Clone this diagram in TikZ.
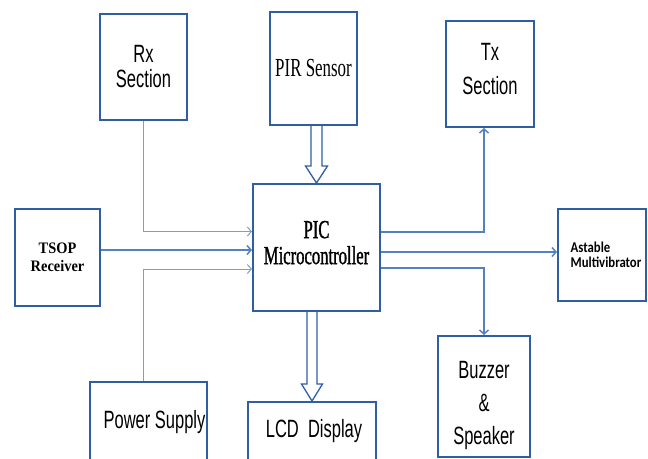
\documentclass[tikz,border=0pt]{standalone}
\usepackage{fontspec}
\newfontfamily\arnarrow[FakeStretch=0.66]{Liberation Sans}
\newfontfamily\tmnarrow[FakeStretch=0.65]{Liberation Serif}
\newfontfamily\tmheavy[FakeStretch=0.64,FakeBold=1.2]{Liberation Serif}
\newfontfamily\tmwide[FakeStretch=0.9]{Liberation Serif}
\newfontfamily\calnarrow[FakeStretch=0.85]{Carlito}
\usetikzlibrary{arrows.meta,positioning,calc}
\definecolor{boxblue}{RGB}{48,94,162}
\definecolor{linkblue}{RGB}{84,130,192}
\definecolor{faintblue}{RGB}{128,158,200}

\begin{document}
\begin{tikzpicture}[x=1pt, y=-1pt,
    block/.style={draw=boxblue, line width=2pt, align=center, inner sep=2pt},
    sans/.style={font=\arnarrow\fontsize{25}{#1}\selectfont},
    serif/.style={font=\tmnarrow\fontsize{26}{#1}\selectfont},
    link/.style={draw=linkblue, line width=1.5pt, -{Straight Barb[length=4pt,width=9pt]}},
    thinlink/.style={link, draw=faintblue, line width=1pt},
    hollow/.style={draw=boxblue, line width=1.3pt, fill=white}
]
\clip (0,0) rectangle (648,458);

% blocks
\node[block, sans=25, minimum width=87pt, minimum height=106pt] (rx) at (143.5,67) {Rx\\Section};
\node[block, serif=26, minimum width=87pt, minimum height=113pt] (pir) at (313.5,68.5) {PIR Sensor};
\node[block, sans=34, minimum width=88pt, minimum height=106pt] (tx) at (490,74) {Tx\\Section\rule[-10pt]{0pt}{10pt}};
\node[block, font=\tmheavy\fontsize{26}{26}\selectfont, minimum width=127pt, minimum height=127pt] (pic) at (316.5,247.5) {PIC\\Microcontroller\rule[-10pt]{0pt}{10pt}};
\node[block, font=\tmwide\bfseries\fontsize{16}{18}\selectfont, minimum width=85pt, minimum height=97pt] (tsop) at (57.5,257.5) {TSOP\\Receiver};
\node[block, font=\calnarrow\bfseries\fontsize{15}{15.5}\selectfont, align=left, minimum width=88pt, minimum height=92pt] (ast) at (602,255) {\hspace*{8pt}Astable\\\hspace*{8pt}Multivibrator};
\node[block, sans=25, minimum width=115pt, minimum height=80pt] (pwr) at (148.5,422) {\hspace*{12pt}Power Supply};
\node[block, sans=25, minimum width=128pt, minimum height=58pt] (lcd) at (312,431) {\hspace*{4pt}LCD\ \ Display};
\node[block, sans=33, minimum width=92pt, minimum height=121pt] (buzz) at (484,396.5) {\rule{0pt}{36pt}Buzzer\\\&\\Speaker};

% ports on the controller
\coordinate (in1) at ($(pic.west)+(0,-16)$);
\coordinate (in2) at ($(pic.west)+(0,2.5)$);
\coordinate (in3) at ($(pic.west)+(0,21.5)$);
\coordinate (out1) at ($(pic.east)+(0,-15.5)$);
\coordinate (out2) at ($(pic.east)+(0,4.5)$);
\coordinate (out3) at ($(pic.east)+(0,20.5)$);

\draw[thinlink] (rx.south) |- (in1);
\draw[link] (tsop.east |- in2) -- (in2);
\draw[thinlink] (pwr.north -| rx.south) |- (in3);
\draw[link] (out1) -| (tx.south -| buzz.north);
\draw[link] (out2) -- (ast.west |- out2);
\draw[link] (out3) -| (buzz.north);

% hollow arrows
\coordinate (pa) at (pic.north |- pir.south);
\draw[hollow] ($(pa)+(-5.5,0)$) -- ($(pic.north)+(-5.5,-17)$) -- ++(-5.5,0) -- (pic.north)
    -- ($(pic.north)+(11,-17)$) -- ++(-5.5,0) -- ($(pa)+(5.5,0)$);
\coordinate (la) at (lcd.north |- pic.south);
\draw[hollow] ($(la)+(-5,0)$) -- ($(lcd.north)+(-5,-17)$) -- ++(-5.5,0) -- (lcd.north)
    -- ($(lcd.north)+(10.5,-17)$) -- ++(-5.5,0) -- ($(la)+(5,0)$);
\end{tikzpicture}
\end{document}
